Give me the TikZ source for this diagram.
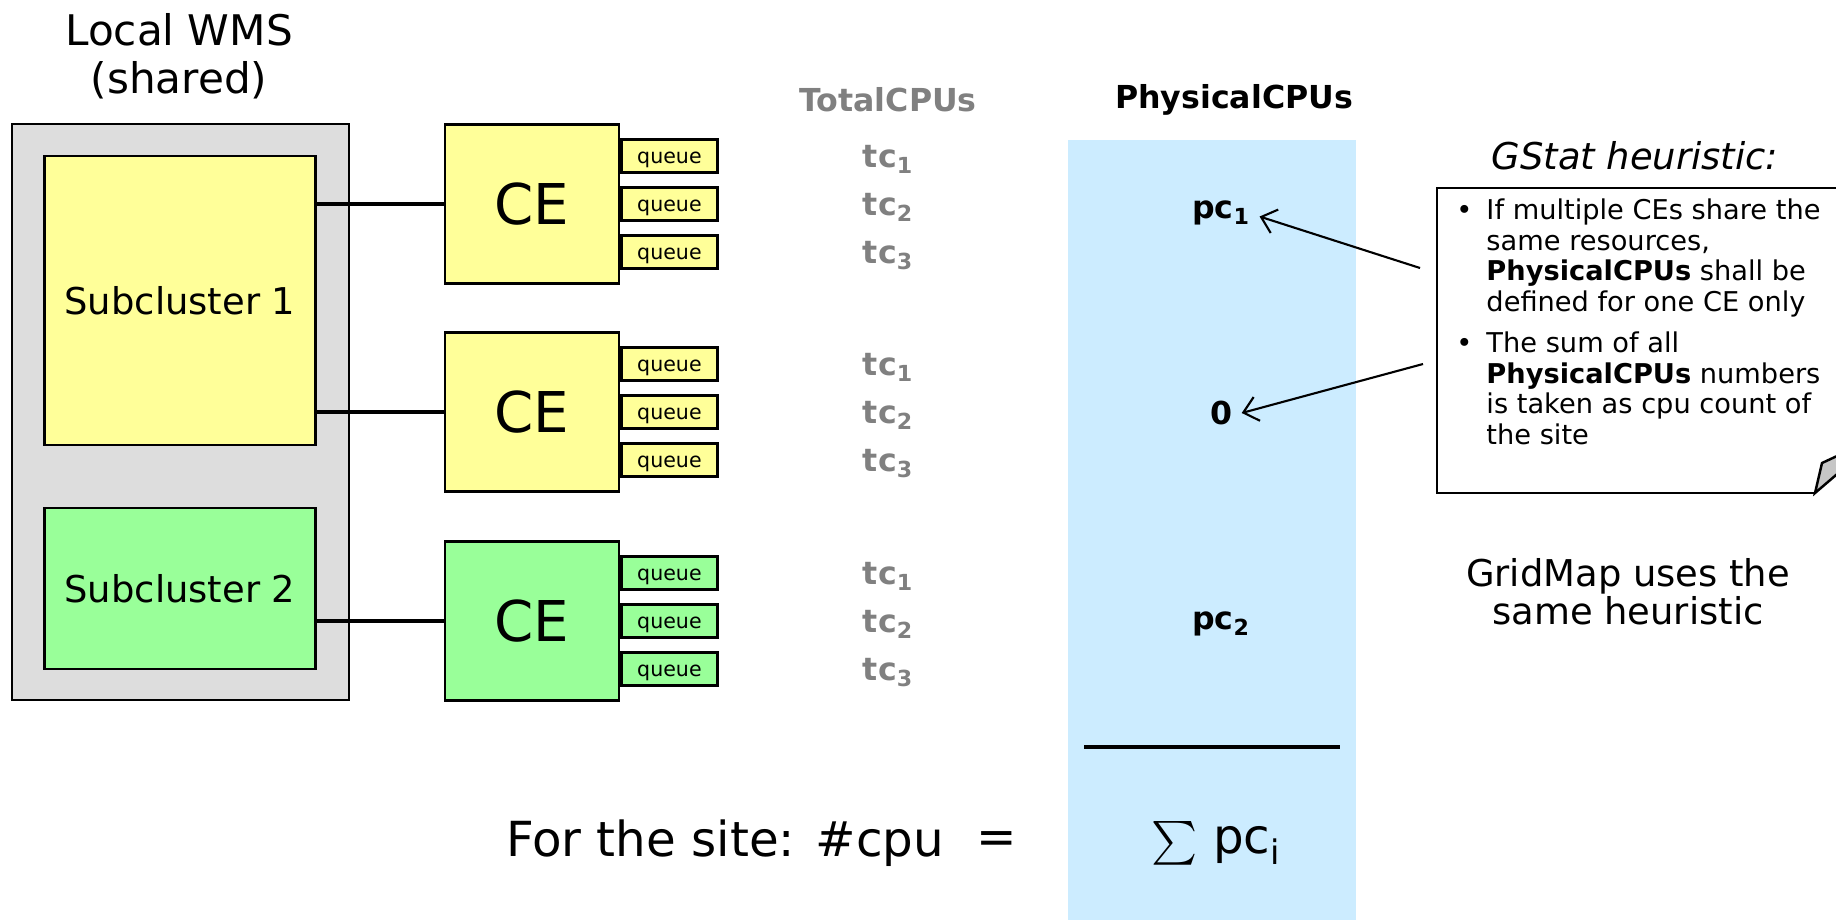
\documentclass[tikz,border=0pt]{standalone}
\usepackage{exscale}
\usepackage{fontspec}
\setmainfont{DejaVu Sans}
\usepackage{tikz}
\usetikzlibrary{arrows.meta,positioning,calc}

\definecolor{wmsgray}{HTML}{DDDDDD}
\definecolor{ceyellow}{HTML}{FFFF99}
\definecolor{cegreen}{HTML}{99FF99}
\definecolor{physblue}{HTML}{CCECFF}
\definecolor{totalgray}{HTML}{808080}

\begin{document}
\begin{tikzpicture}[x=0.02cm, y=-0.02cm,
		box/.style={draw, line width=1.4pt, inner sep=0pt},
		cebox/.style={box, minimum width=3.48cm, minimum height=3.18cm, font=\fontsize{32}{38}\selectfont},
		queuebox/.style={box, minimum width=1.92cm, minimum height=0.66cm, anchor=west, text height=9pt, text depth=1pt, font=\fontsize{11.7}{14}\selectfont},
		link/.style={line width=2.8pt},
		pointer/.style={line width=1.2pt, -{Straight Barb[length=8pt,width=14pt]}},
		total/.style={text=totalgray, font=\fontsize{18}{22}\selectfont\bfseries},
		phys/.style={font=\fontsize{18}{22}\selectfont\bfseries}
	]
	\useasboundingbox (0,0) rectangle (1836,920);
	\clip (0,0) rectangle (1836,920);
	
	% PhysicalCPUs column
	\fill[physblue] (1068,140) rectangle (1356,920);
	\draw[line width=2.8pt] (1084,747) -- (1340,747);
	
	% local WMS with its subclusters
	\node[box, fill=wmsgray, minimum width=6.74cm, minimum height=11.52cm] (wms) at (180.5,412) {};
	\node[font=\fontsize{24}{27.3}\selectfont, align=center] (wmstitle) at (179,56) {Local WMS\\(shared)};
	\node[box, fill=ceyellow, minimum width=5.43cm, minimum height=5.78cm, font=\fontsize{21}{25}\selectfont] (sc1) at (180,300.5) {Subcluster 1};
	\node[box, fill=cegreen, minimum width=5.43cm, minimum height=3.22cm, font=\fontsize{21}{25}\selectfont] (sc2) at (180,588.5) {Subcluster 2};
	
	\node[cebox, fill=ceyellow] (ce1) at (532,204) {CE};
	\node[cebox, fill=ceyellow] (ce2) at (532,412) {CE};
	\node[cebox, fill=cegreen] (ce3) at (532,621) {CE};
	
	\draw[link] (sc1.east |- ce1.west) -- (ce1.west);
	\draw[link] (sc1.east |- ce2.west) -- (ce2.west);
	\draw[link] (sc2.east |- ce3.west) -- (ce3.west);
	
	\node[total] (totalhdr) at (888,100) {TotalCPUs};
	\node[phys] (physhdr) at (1234,100) {PhysicalCPUs};
	
	\foreach \c/\col in {1/ceyellow,2/ceyellow,3/cegreen} {
		\foreach \q/\dy in {1/0.96,2/0,3/-0.96} {
			\node[queuebox, fill=\col] (q\c\q) at ([yshift=\dy cm]ce\c.east) {queue};
			\node[total, yshift=-2pt] (tc\c\q) at (q\c\q -| totalhdr) {tc\textsubscript{\q}};
		}
	}
	
	\node[phys] (pc1) at (1221,213) {pc\textsubscript{1}};
	\node[phys] (pc0) at (1221,413) {0};
	\node[phys] (pc2) at (1221,624) {pc\textsubscript{2}};
	
	% the sum for the site
	\node[font=\fontsize{27.5}{33}\selectfont] (site) at (725,843) {For the site: \#cpu};
	\node[font=\fontsize{27.5}{33}\selectfont] (eq) at (997,843) {=};
	\node[font=\fontsize{27.5}{33}\selectfont] (sum) at (1216,843) {{\fontsize{31}{36}\selectfont$\sum$} pc\textsubscript{i}};
	
	% heuristic note
	\node[font=\fontsize{21}{25}\selectfont\itshape] (gstat) at (1635,156) {GStat heuristic:};
	\draw[line width=1.4pt] (1850,188) -- (1437,188) -- (1437,493) -- (1815,493);
	\draw[line width=1.4pt, fill=gray!45] (1815,493) -- (1822,463) -- (1850,450) -- (1850,463) -- cycle;
	\node[anchor=north west, inner sep=0pt, font=\fontsize{15.5}{17.4}\selectfont] (rules) at (1456,198) {%
		\begin{tabular}{@{}l@{\hspace{8pt}}l@{}}
			\textbullet & If multiple CEs share the\\
			& same resources,\\
			& \textbf{PhysicalCPUs} shall be\\
			& defined for one CE only\\[6pt]
			\textbullet & The sum of all\\
			& \textbf{PhysicalCPUs} numbers\\
			& is taken as cpu count of\\
			& the site
	\end{tabular}};
	\coordinate (from1) at (1420,268);
	\coordinate (from2) at (1423,364);
	\draw[pointer] (from1) -- ([xshift=2pt,yshift=-2pt]pc1.east);
	\draw[pointer] (from2) -- ([xshift=2pt]pc0.east);
	
	\node[font=\fontsize{21}{21.8}\selectfont, align=center] (gridmap) at (1628,592) {GridMap uses the\\same heuristic};
\end{tikzpicture}
\end{document}
